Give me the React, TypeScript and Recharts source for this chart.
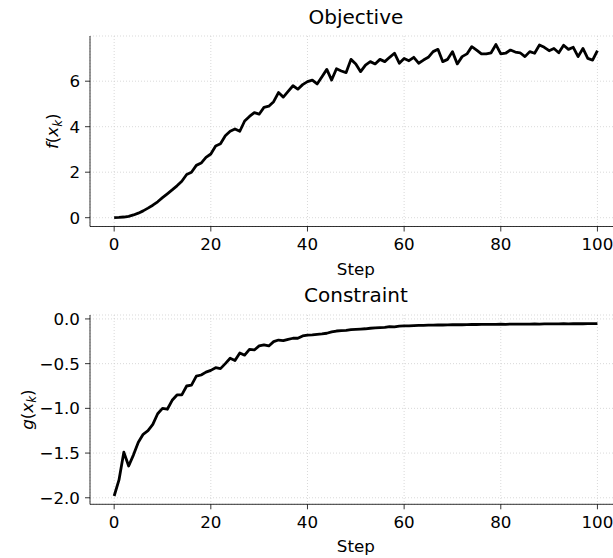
import { LineChart, Line, XAxis, YAxis, CartesianGrid, Label } from 'recharts'

// objective value f(x_k) per step
const objective = [
  0.0, 0.01, 0.03, 0.06, 0.12, 0.2, 0.3, 0.42, 0.55, 0.7,
  0.88, 1.05, 1.22, 1.4, 1.6, 1.9, 2.0, 2.3, 2.4, 2.65,
  2.8, 3.15, 3.25, 3.6, 3.8, 3.9, 3.8, 4.25, 4.45, 4.62,
  4.55, 4.85, 4.9, 5.1, 5.5, 5.3, 5.55, 5.8, 5.65, 5.85,
  5.98, 6.05, 5.88, 6.2, 6.52, 6.05, 6.55, 6.45, 6.38, 6.96,
  6.76, 6.42, 6.71, 6.86, 6.76, 6.96, 6.86, 7.05, 7.23, 6.79,
  7.0, 6.9, 7.05, 6.79, 6.93, 7.05, 7.3, 7.4, 6.86, 6.96,
  7.3, 6.76, 7.08, 7.2, 7.52, 7.37, 7.2, 7.2, 7.25, 7.61,
  7.2, 7.23, 7.37, 7.28, 7.25, 7.08, 7.3, 7.23, 7.59, 7.49,
  7.34, 7.44, 7.25, 7.58, 7.4, 7.49, 7.08, 7.44, 7.0, 6.93,
  7.34,
]

// constraint value g(x_k) per step
const constraint = [
  -1.98, -1.8, -1.49, -1.645, -1.52, -1.38, -1.29, -1.25, -1.18, -1.06,
  -1.0, -1.01, -0.91, -0.85, -0.85, -0.75, -0.74, -0.64, -0.627, -0.595,
  -0.575, -0.545, -0.556, -0.5, -0.44, -0.466, -0.38, -0.405, -0.34, -0.347,
  -0.302, -0.29, -0.302, -0.254, -0.236, -0.243, -0.228, -0.216, -0.216, -0.19,
  -0.18, -0.178, -0.172, -0.168, -0.16, -0.145, -0.135, -0.13, -0.128, -0.12,
  -0.117, -0.113, -0.11, -0.104, -0.1, -0.097, -0.095, -0.085, -0.088, -0.08,
  -0.077, -0.078, -0.074, -0.072, -0.071, -0.07, -0.069, -0.067, -0.068, -0.066,
  -0.065, -0.064, -0.065, -0.063, -0.062, -0.062, -0.061, -0.06, -0.061, -0.06,
  -0.059, -0.06, -0.058, -0.058, -0.057, -0.058, -0.057, -0.056, -0.057, -0.056,
  -0.055, -0.056, -0.055, -0.054, -0.055, -0.054, -0.053, -0.054, -0.053, -0.053,
  -0.052,
]

const stepTicks = [0, 20, 40, 60, 80, 100]
const objectiveTicks = [0, 2, 4, 6]
const constraintTicks = [-2, -1.5, -1, -0.5, 0]

const FONT = 'DejaVu Sans'
const FS = 16.7

const tickStyle = { fill: '#000', fontSize: FS, fontFamily: FONT }
const lineStyle = { stroke: '#000', strokeWidth: 0.8 }

const minus = (s: string) => s.replace('-', '\u2212')

function mathLabel(fn: string, baseX: number) {
  return (props: any) => {
    const vb = props.viewBox || {}
    const cy = vb.y + vb.height / 2
    const cx = baseX
    return (
      <text
        x={cx}
        y={cy}
        transform={`rotate(-90, ${cx}, ${cy})`}
        textAnchor="middle"
        fontFamily={FONT}
        fontSize={FS}
        fill="#000"
      >
        <tspan fontStyle="italic">{fn}</tspan>
        <tspan>(</tspan>
        <tspan fontStyle="italic">x</tspan>
        <tspan fontStyle="italic" fontSize={11.7} dy={3.5}>k</tspan>
        <tspan dy={-3.5}>)</tspan>
      </text>
    )
  }
}

interface PanelProps {
  data: { step: number; value: number }[]
  domain: [number, number]
  yTicks: number[]
  fmt: (v: number) => string
  fn: string
  labelX: number
  height: number
  top: number
  bottom: number
}

function Panel({ data, domain, yTicks, fmt, fn, labelX, height, top, bottom }: PanelProps) {
  return (
    <LineChart width={640} height={height} data={data} margin={{ top, right: 18.4, left: 0, bottom }}>
      <CartesianGrid stroke="#cfcfcf" strokeWidth={0.8} strokeDasharray="1 2" />
      <XAxis
        dataKey="step"
        type="number"
        domain={[-5, 105]}
        ticks={stepTicks}
        height={50}
        tickSize={5}
        tickMargin={7}
        tick={tickStyle}
        tickLine={lineStyle}
        axisLine={lineStyle}
      >
        <Label value="Step" position="insideBottom" offset={2} fill="#000" fontSize={FS} fontFamily={FONT} />
      </XAxis>
      <XAxis xAxisId="top" orientation="top" dataKey="step" type="number" domain={[-5, 105]} height={0} tick={false} tickLine={false} axisLine={lineStyle} />
      <YAxis
        type="number"
        domain={domain}
        ticks={yTicks}
        width={90}
        tickSize={5}
        tickMargin={5}
        tick={tickStyle}
        tickLine={lineStyle}
        axisLine={lineStyle}
        tickFormatter={fmt}
        allowDataOverflow
      >
        <Label content={mathLabel(fn, labelX)} />
      </YAxis>
      <Line
        dataKey="value"
        stroke="#000"
        strokeWidth={2.8}
        strokeLinejoin="round"
        dot={false}
        activeDot={false}
        isAnimationActive={false}
      />
    </LineChart>
  )
}

export default function App() {
  const objData = objective.map((value, step) => ({ step, value }))
  const conData = constraint.map((value, step) => ({ step, value }))
  return (
    <div style={{ position: 'absolute', left: 0, top: 0, width: 613, height: 558, overflow: 'hidden', background: '#fff' }}>
      <div style={{ position: 'absolute', left: 0, top: 0 }}>
        <Panel
          data={objData}
          domain={[-0.387, 7.987]}
          yTicks={objectiveTicks}
          fmt={(v) => String(v)}
          fn="f"
          labelX={58}
          height={290}
          top={36}
          bottom={13.5}
        />
      </div>
      <div style={{ position: 'absolute', left: 0, top: 290 }}>
        <Panel
          data={conData}
          domain={[-2.073, 0.044]}
          yTicks={constraintTicks}
          fmt={(v) => minus(v.toFixed(1))}
          fn="g"
          labelX={33}
          height={268}
          top={25}
          bottom={3.7}
        />
      </div>
      <svg width={613} height={558} style={{ position: 'absolute', left: 0, top: 0, pointerEvents: 'none' }}>
        <text x={355.9} y={24} textAnchor="middle" fontFamily={FONT} fontSize={20} fill="#000">Objective</text>
        <text x={355.9} y={302} textAnchor="middle" fontFamily={FONT} fontSize={20} fill="#000">Constraint</text>
      </svg>
    </div>
  )
}
